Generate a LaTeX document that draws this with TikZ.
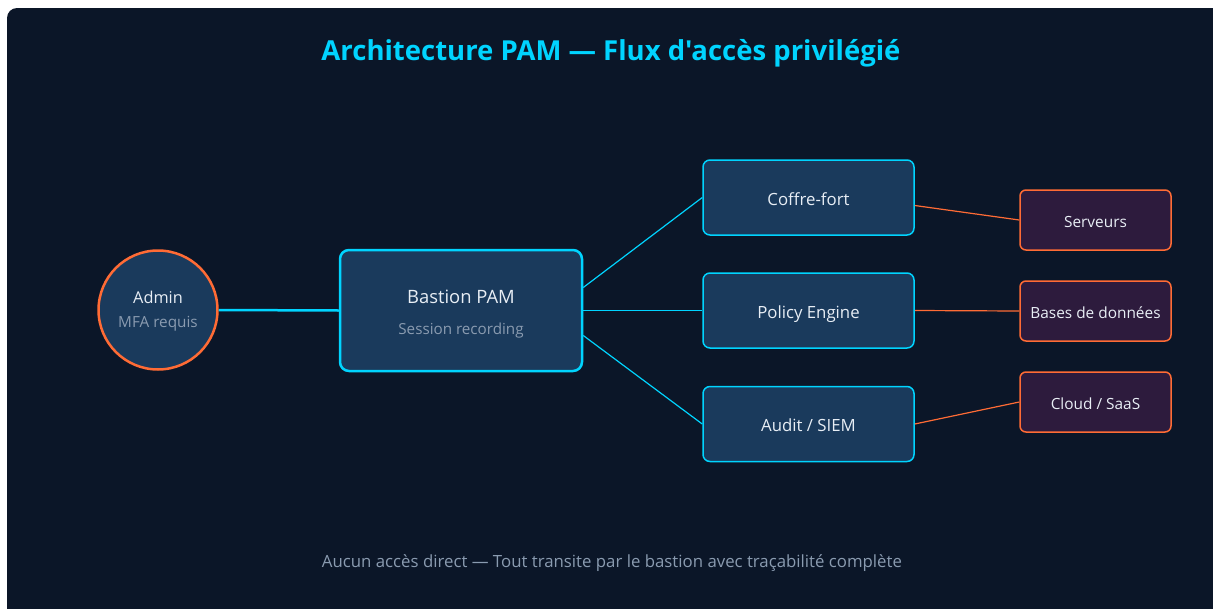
\documentclass[tikz,border=0pt]{standalone}
\usepackage{fontspec}
\setmainfont{Open Sans}[Ligatures=TeXOff]
\definecolor{bgdark}{HTML}{0B1628}
\definecolor{nodefill}{HTML}{1A3A5C}
\definecolor{cyanline}{HTML}{00D4FF}
\definecolor{orangeline}{HTML}{FF6B35}
\definecolor{targetfill}{HTML}{2D1B3D}
\definecolor{mutedtext}{HTML}{8A9BB0}
\definecolor{softwhite}{HTML}{E8EEF5}
\tikzset{
  x=1pt, y=-1pt,
  core/.style={draw=cyanline, line width=2.5pt, fill=nodefill, rounded corners=9pt},
  svc/.style={draw=cyanline, line width=1.5pt, fill=nodefill, rounded corners=7pt,
    minimum width=211pt, minimum height=75pt, text=softwhite, font=\fontsize{16.8}{20}\selectfont,
    text height=15pt, text depth=0pt},
  tgt/.style={draw=orangeline, line width=1.5pt, fill=targetfill, rounded corners=6pt,
    minimum width=151pt, minimum height=60pt, text=softwhite, font=\fontsize{15.4}{18}\selectfont,
    text height=15.5pt, text depth=0pt},
  lbl/.style={anchor=base, inner sep=0pt},
  cyanlink/.style={draw=cyanline, line width=1.2pt},
  orangelink/.style={draw=orangeline, line width=1.2pt},
}
\begin{document}
\begin{tikzpicture}
  % canvas
  \useasboundingbox (0,0) rectangle (1213,608);
  \fill[white] (0,0) rectangle (1213,608);
  \fill[bgdark, rounded corners=10pt] (7,8) rectangle (1222,618);

  % title
  \node[lbl, text=cyanline, font=\fontsize{27.5}{32}\selectfont\bfseries] (title) at (611,60) {Architecture PAM — Flux d'accès privilégié};

  % admin
  \node[circle, draw=orangeline, line width=2.5pt, fill=nodefill, minimum size=119pt, inner sep=0pt] (admin) at (158,310) {};
  \node[lbl, text=softwhite, font=\fontsize{16.3}{19}\selectfont] (adminlbl) at (158,303) {Admin};
  \node[lbl, text=mutedtext, font=\fontsize{15.3}{18}\selectfont] (adminsub) at (158,327) {MFA requis};

  % bastion
  \node[core, minimum width=242pt, minimum height=121pt] (bastion) at (461,310.5) {};
  \node[lbl, text=softwhite, font=\fontsize{18.4}{22}\selectfont] (bastionlbl) at (461,303.5) {Bastion PAM};
  \node[lbl, text=mutedtext, font=\fontsize{15.2}{18}\selectfont] (bastionsub) at (461,334) {Session recording};

  % services
  \node[svc] (vault) at (808.5,197.5) {Coffre-fort};
  \node[svc] (policy) at (808.5,310.5) {Policy Engine};
  \node[svc] (audit) at (808.5,424) {Audit / SIEM};

  % targets
  \node[tgt] (servers) at (1095.5,220) {Serveurs};
  \node[tgt] (dbs) at (1095.5,311) {Bases de données};
  \node[tgt] (cloud) at (1095.5,402) {Cloud / SaaS};

  % links
  \draw[draw=cyanline, line width=2.5pt] (admin.east) -- (bastion.west);
  \draw[cyanlink] ([yshift=23pt]bastion.east) -- (vault.west);
  \draw[cyanlink] (bastion.east) -- (policy.west);
  \draw[cyanlink] ([yshift=-25pt]bastion.east) -- (audit.west);
  \draw[orangelink] ([yshift=-8pt]vault.east) -- (servers.west);
  \draw[orangelink] (policy.east) -- (dbs.west);
  \draw[orangelink] (audit.east) -- (cloud.west);

  % footer
  \node[lbl, text=mutedtext, font=\fontsize{16.8}{20}\selectfont] (footer) at (612,567.5) {Aucun accès direct — Tout transite par le bastion avec traçabilité complète};
\end{tikzpicture}
\end{document}
